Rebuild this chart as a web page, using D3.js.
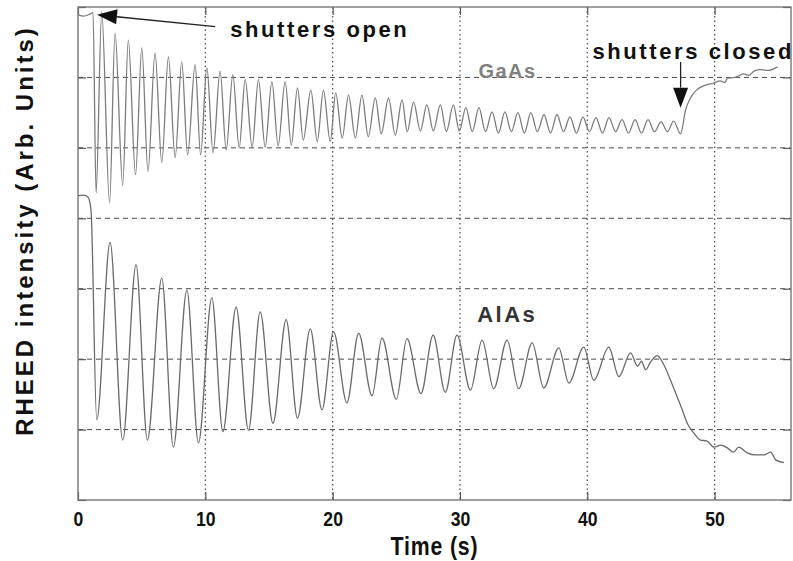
<!DOCTYPE html>
<html><head><meta charset="utf-8">
<script src="https://cdn.jsdelivr.net/npm/d3@7"></script>
<style>html,body{margin:0;padding:0;background:#fff;} svg{display:block;}</style>
</head><body>
<svg id="chart" width="793" height="561"></svg>
<script>
// ---------- data ----------
const xTicks = [0, 10, 20, 30, 40, 50];
const yTicks = [0, 1, 2, 3, 4, 5, 6, 7];
const xGrid = [10, 20, 30, 40, 50];
const yGrid = [1, 2, 3, 4, 5, 6];
const xDomain = [0, 56];
const yDomain = [0, 7];
const xLabel = "Time (s)";
const yLabel = "RHEED intensity (Arb. Units)";

// GaAs trace: [time (s), intensity (arb.)]
const gaasPoints = [
  [0,6.89],[0.47,6.87],[0.94,6.90],[1.18,6.92],
  [1.42,4.36],[1.86,6.93],[2.48,4.22],[2.91,6.63],[3.51,4.47],[3.95,6.53],
  [4.52,4.62],[5.01,6.42],[5.50,4.66],[6.05,6.35],[6.58,4.79],[7.10,6.29],
  [7.63,4.86],[8.15,6.22],[8.61,4.90],[9.20,6.18],[9.63,4.90],[10.12,6.14],
  [10.61,4.93],[11.16,6.09],[11.64,4.97],[12.16,6.04],[12.66,5.00],[13.13,5.97],
  [13.68,5.01],[14.17,5.97],[14.70,5.01],[15.23,5.94],[15.72,5.03],[16.27,5.94],
  [16.75,5.04],[17.24,5.85],[17.69,5.11],[18.29,5.82],[18.79,5.09],[19.28,5.82],
  [19.81,5.09],[20.24,5.78],[20.75,5.14],[21.25,5.75],[21.78,5.14],[22.30,5.75],
  [22.80,5.16],[23.35,5.71],[23.82,5.20],[24.39,5.71],[24.92,5.18],[25.45,5.68],
  [25.86,5.23],[26.36,5.65],
  [26.89,5.24],[27.40,5.61],[27.91,5.24],[28.46,5.61],[28.93,5.23],[29.48,5.61],
  [29.95,5.24],[30.46,5.57],[30.97,5.23],[31.49,5.57],[32.00,5.23],[32.52,5.51],
  [33.02,5.21],[33.53,5.51],[34.04,5.23],[34.55,5.50],[35.06,5.21],[35.57,5.50],
  [36.08,5.23],[36.60,5.47],[37.11,5.21],[37.62,5.47],[38.13,5.23],[38.64,5.44],
  [39.15,5.21],[39.66,5.44],[40.17,5.23],[40.68,5.43],[41.19,5.21],[41.71,5.43],
  [42.22,5.23],[42.73,5.40],[43.24,5.21],[43.75,5.40],[44.26,5.21],[44.77,5.40],
  [45.28,5.23],[45.79,5.37],[46.30,5.23],[46.78,5.38],[47.33,5.20],
  [47.72,5.54],[48.11,5.71],[48.58,5.82],[49.14,5.88],[49.92,5.92],[50.45,5.95],
  [50.80,5.93],[51.02,5.99],[51.60,6.00],[52.28,6.05],[52.70,6.03],[53.10,6.09],
  [53.62,6.11],[54.20,6.10],[54.95,6.15]
];

// AlAs trace: [time (s), intensity (arb.)]
const alasPoints = [
  [0,4.32],[0.47,4.33],[0.79,4.30],[1.02,4.12],
  [1.47,1.14],[2.52,3.66],[3.51,0.85],[4.56,3.34],[5.45,0.85],[6.58,3.15],
  [7.49,0.75],[8.55,2.98],[9.46,0.81],[10.51,2.87],[11.38,0.97],[12.42,2.74],
  [13.39,0.99],[14.31,2.67],[15.31,1.09],[16.35,2.56],[17.24,1.16],[18.24,2.43],
  [19.16,1.28],[20.07,2.39],[21.12,1.38],[22.04,2.37],[23.09,1.48],[23.88,2.30],
  [25.00,1.43],[25.84,2.29],[26.94,1.51],[27.89,2.34],[28.85,1.53],[29.77,2.34],
  [30.82,1.56],[31.74,2.27],[32.65,1.58],[33.70,2.27],[34.61,1.58],[35.67,2.23],
  [36.58,1.59],[37.76,2.16],[38.55,1.66],[39.72,2.17],[40.51,1.70],[41.69,2.17],
  [42.48,1.75],[43.40,2.09],[43.95,1.90],[44.26,1.97],[44.58,1.85],[44.97,1.96],
  [45.50,2.05],[46.01,1.92],[46.54,1.70],[47.07,1.46],[47.46,1.28],[47.85,1.09],
  [48.37,0.95],[48.90,0.85],[49.37,0.84],[49.95,0.75],[50.50,0.78],[51.00,0.74],
  [51.49,0.68],[51.89,0.75],[52.57,0.67],[53.22,0.64],[53.88,0.64],[54.40,0.68],
  [54.80,0.57],[55.45,0.53]
];

// annotations, in data units
const textLabels = [
  {text: "shutters open",   t: 11.95, v: 6.58, cls: "ann"},
  {text: "shutters closed", t: 40.40, v: 6.26, cls: "ann"},
  {text: "GaAs",            t: 31.45, v: 5.99, cls: "gaas"},
  {text: "AlAs",            t: 31.35, v: 2.53, cls: "alas"}
];
const arrows = [
  {from: [10.77, 6.72], to: [1.49, 6.89]},   // shutters open
  {from: [47.33, 6.22], to: [47.33, 5.57]}   // shutters closed
];

// ---------- layout ----------
(function () {
const pLeft = 78, pRight = 791, pTop = 7, pBottom = 500;
const svg = d3.select("#chart");
const x = d3.scaleLinear().domain(xDomain).range([pLeft, pRight]);
const y = d3.scaleLinear().domain(yDomain).range([pBottom, pTop]);
const FONT = "'Liberation Sans', Arial, Helvetica, sans-serif";

// gridlines
svg.append("g").selectAll("line").data(yGrid).join("line")
  .attr("x1", pLeft).attr("x2", pRight)
  .attr("y1", d => y(d)).attr("y2", d => y(d))
  .attr("stroke", "#4a4a4a").attr("stroke-width", 1)
  .attr("stroke-dasharray", "5,4");
svg.append("g").selectAll("line").data(xGrid).join("line")
  .attr("y1", pTop).attr("y2", pBottom)
  .attr("x1", d => x(d)).attr("x2", d => x(d))
  .attr("stroke", "#4a4a4a").attr("stroke-width", 1.2)
  .attr("stroke-dasharray", "1.5,3");

// curves
svg.append("clipPath").attr("id", "clip").append("rect")
  .attr("x", pLeft).attr("y", pTop).attr("width", pRight - pLeft).attr("height", pBottom - pTop);
const line = d3.line().x(d => x(d[0])).y(d => y(d[1])).curve(d3.curveMonotoneX);
svg.append("path").datum(gaasPoints).attr("d", line)
  .attr("fill", "none").attr("stroke", "#7c7c7c").attr("stroke-width", 1.3)
  .attr("clip-path", "url(#clip)");
svg.append("path").datum(alasPoints).attr("d", line)
  .attr("fill", "none").attr("stroke", "#6a6a6a").attr("stroke-width", 1.3)
  .attr("clip-path", "url(#clip)");

// axes (inner ticks on all sides)
const tickLen = 8;
const gB = svg.append("g").attr("transform", `translate(0,${pBottom})`)
  .call(d3.axisBottom(x).tickValues(xTicks).tickSizeInner(-tickLen).tickSizeOuter(0).tickPadding(11).tickFormat(d3.format("d")));
gB.select(".domain").remove();
gB.selectAll("line").attr("stroke", "#555").attr("stroke-width", 1.2);
gB.selectAll("text").attr("fill", "#111").style("font-family", FONT)
  .style("font-weight", "bold").style("font-size", "21px")
  .attr("transform", "scale(0.84,1)");

const gT = svg.append("g").attr("transform", `translate(0,${pTop})`)
  .call(d3.axisTop(x).tickValues(xTicks).tickSizeInner(-tickLen).tickSizeOuter(0).tickFormat(""));
gT.select(".domain").remove();
gT.selectAll("line").attr("stroke", "#555").attr("stroke-width", 1.2);

const gL = svg.append("g").attr("transform", `translate(${pLeft},0)`)
  .call(d3.axisLeft(y).tickValues(yTicks).tickSizeInner(-tickLen).tickSizeOuter(0).tickFormat(""));
gL.select(".domain").remove();
gL.selectAll("line").attr("stroke", "#555").attr("stroke-width", 1.2);

const gR = svg.append("g").attr("transform", `translate(${pRight},0)`)
  .call(d3.axisRight(y).tickValues(yTicks).tickSizeInner(-tickLen).tickSizeOuter(0).tickFormat(""));
gR.select(".domain").remove();
gR.selectAll("line").attr("stroke", "#555").attr("stroke-width", 1.2);

// frame
svg.append("rect").attr("x", pLeft).attr("y", pTop)
  .attr("width", pRight - pLeft).attr("height", pBottom - pTop)
  .attr("fill", "none").attr("stroke", "#777").attr("stroke-width", 1.4);

// axis titles
svg.append("text").text(xLabel)
  .attr("transform", `translate(${(pLeft + pRight) / 2},555) scale(0.85,1)`)
  .attr("text-anchor", "middle").attr("fill", "#111")
  .style("font-family", FONT).style("font-weight", "bold").style("font-size", "25px")
  .style("letter-spacing", "1px");
svg.append("text").text(yLabel)
  .attr("transform", `translate(33,${(pTop + pBottom) / 2 - 23}) rotate(-90)`)
  .attr("text-anchor", "middle").attr("fill", "#111")
  .style("font-family", FONT).style("font-weight", "bold").style("font-size", "24px")
  .style("letter-spacing", "3px");

// annotation text
const styles = {
  ann:  {size: 22, fill: "#111", spacing: 2.6},
  gaas: {size: 20, fill: "#808080", spacing: 1.5},
  alas: {size: 22, fill: "#333", spacing: 2.5}
};
svg.append("g").selectAll("text").data(textLabels).join("text")
  .attr("x", d => x(d.t)).attr("y", d => y(d.v))
  .text(d => d.text)
  .attr("fill", d => styles[d.cls].fill)
  .style("font-family", FONT).style("font-weight", "bold")
  .style("font-size", d => styles[d.cls].size + "px")
  .style("letter-spacing", d => styles[d.cls].spacing + "px");

// arrows
const headLen = 20, headHalf = 7.5;
arrows.forEach(a => {
  const x0 = x(a.from[0]), y0 = y(a.from[1]);
  const x1 = x(a.to[0]), y1 = y(a.to[1]);
  const dx = x1 - x0, dy = y1 - y0, len = Math.hypot(dx, dy);
  const ux = dx / len, uy = dy / len;
  const bx = x1 - ux * headLen, by = y1 - uy * headLen;
  svg.append("line").attr("x1", x0).attr("y1", y0).attr("x2", bx).attr("y2", by)
    .attr("stroke", "#222").attr("stroke-width", 1.3);
  svg.append("path")
    .attr("d", `M${x1},${y1}L${bx - uy * headHalf},${by + ux * headHalf}L${bx + uy * headHalf},${by - ux * headHalf}Z`)
    .attr("fill", "#111");
});
})();
</script>
</body></html>
